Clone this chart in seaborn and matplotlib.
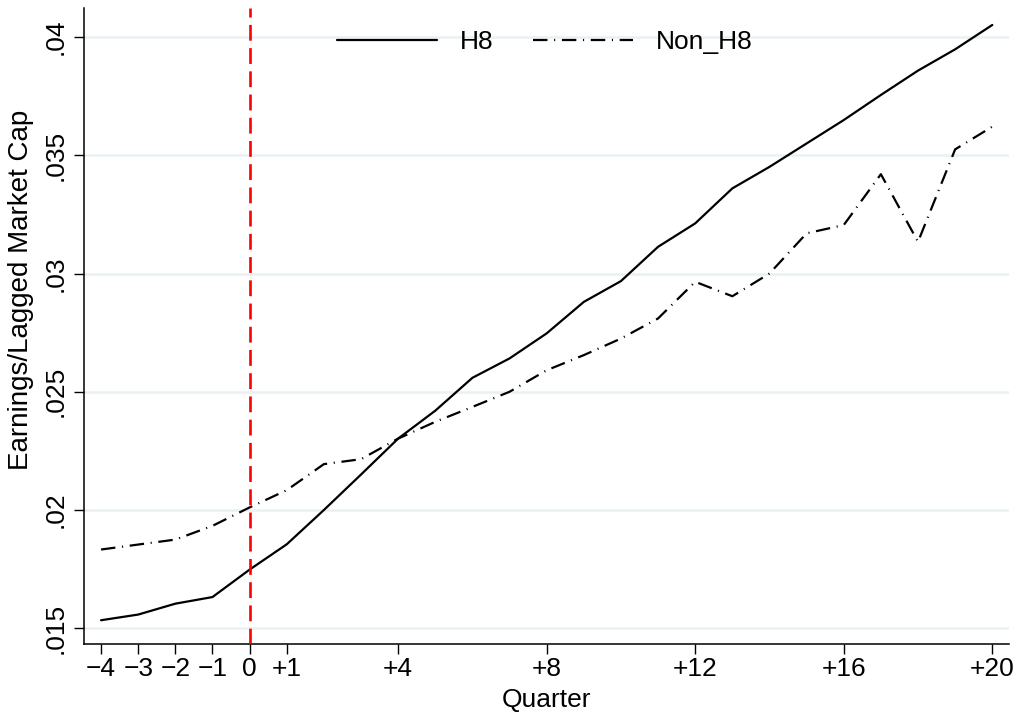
import numpy as np
import pandas as pd
import seaborn as sns
import matplotlib
matplotlib.use("Agg")
import matplotlib.pyplot as plt
from matplotlib.lines import Line2D

# datos
quarters = list(range(-4, 21))
h8 = [0.01534, 0.01558, 0.01604, 0.01632, 0.01748, 0.01855, 0.0200, 0.0215, 0.02302,
      0.0242, 0.02559, 0.02641, 0.02747, 0.02880, 0.02968, 0.03113, 0.03212, 0.03360,
      0.03451, 0.0355, 0.03649, 0.03755, 0.03858, 0.03948, 0.04051]
non_h8 = [0.01833, 0.01854, 0.01875, 0.01933, 0.02011, 0.02084, 0.02194, 0.02215, 0.02302,
          0.02373, 0.02436, 0.02500, 0.02591, 0.02655, 0.02725, 0.02810, 0.02965, 0.02904,
          0.03000, 0.03170, 0.03205, 0.03420, 0.03134, 0.03525, 0.03621]
xtick_pos = [-4, -3, -2, -1, 0, 1, 4, 8, 12, 16, 20]
xtick_labels = ["\u22124", "\u22123", "\u22122", "\u22121", "0", "+1", "+4", "+8", "+12", "+16", "+20"]
ytick_pos = [0.015, 0.02, 0.025, 0.03, 0.035, 0.04]
ytick_labels = [".015", ".02", ".025", ".03", ".035", ".04"]

df = pd.DataFrame({
    "Quarter": quarters * 2,
    "value": h8 + non_h8,
    "group": ["H8"] * len(quarters) + ["Non_H8"] * len(quarters),
})

sns.set_style("white")
plt.rcParams["font.family"] = ["Liberation Sans", "DejaVu Sans"]
plt.rcParams["text.color"] = "black"
plt.rcParams["xtick.color"] = "black"
plt.rcParams["ytick.color"] = "black"
plt.rcParams["axes.labelcolor"] = "black"

fig = plt.figure(figsize=(10.2, 7.15), dpi=100)
ax = fig.add_axes([0.0824, 0.0989, 0.9071, 0.8899])

# lineas de cuadricula
for yv in ytick_pos:
    ax.axhline(yv, color="#e9f1f3", lw=1.8, zorder=0)

dash_nonh8 = (6.5, 3, 0.5, 3)
sns.lineplot(data=df, x="Quarter", y="value", style="group",
             dashes={"H8": "", "Non_H8": dash_nonh8}, color="black",
             lw=1.6, ax=ax, legend=False, zorder=3)

ax.axvline(0, color="#ff0000", lw=1.9, dashes=(6, 2.8), zorder=4)

ax.set_xlim(-4.458, 20.458)
ax.set_ylim(0.014323, 0.041227)
ax.set_xticks(xtick_pos)
ax.set_xticklabels(xtick_labels, fontsize=19)
ax.set_yticks(ytick_pos)
ax.set_yticklabels(ytick_labels, fontsize=19, rotation=90, va="center")
ax.tick_params(axis="x", length=7.5, width=1.0, pad=2, direction="out", bottom=True)
ax.tick_params(axis="y", length=7.5, width=1.0, pad=4, direction="out", left=True)

for s in ["top", "right"]:
    ax.spines[s].set_visible(False)
for s in ["left", "bottom"]:
    ax.spines[s].set_color("black")
    ax.spines[s].set_linewidth(1.1)

ax.set_xlabel("Quarter", fontsize=19, labelpad=5)
ax.set_ylabel("Earnings/Lagged Market Cap", fontsize=20)
ax.yaxis.set_label_coords(-0.054, 0.557)

handles = [
    Line2D([], [], color="black", lw=1.6),
    Line2D([], [], color="black", lw=1.6, dashes=dash_nonh8),
]
ax.legend(handles, ["H8", "Non_H8"], loc="center", bbox_to_anchor=(0.4977, 0.9466),
          ncol=2, frameon=False, fontsize=19, handlelength=3.79,
          handletextpad=0.87, columnspacing=1.5)

fig.savefig("out.png", dpi=100)
